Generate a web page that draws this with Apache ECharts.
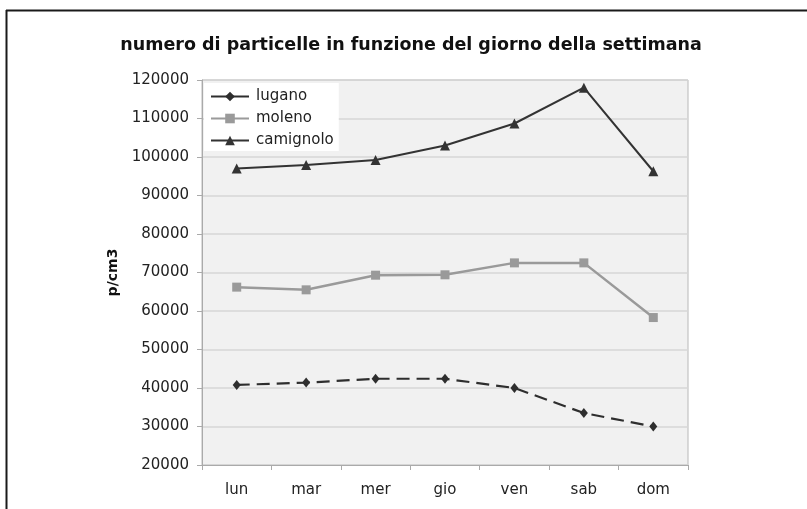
<!DOCTYPE html>
<html>
<head>
<meta charset="utf-8">
<script src="https://cdn.jsdelivr.net/npm/echarts@6/dist/echarts.min.js"></script>
<style>
  html, body { margin: 0; padding: 0; background: #fff; }
  #chart { width: 807px; height: 509px; }
</style>
</head>
<body>
<div id="chart"></div>
<script>
// Days of the week and particle counts (p/cm3) per station
const days = ['lun', 'mar', 'mer', 'gio', 'ven', 'sab', 'dom'];
const lugano = [40800, 41400, 42400, 42400, 40000, 33500, 30000];
const moleno = [66200, 65500, 69300, 69400, 72500, 72500, 58300];
const camignolo = [97000, 97900, 99200, 103000, 108700, 118000, 96300];
const yTicks = { min: 20000, max: 120000, step: 10000 };

const FONT = 'DejaVu Sans';
const chart = echarts.init(document.getElementById('chart'), null, { renderer: 'canvas' });

chart.setOption({
  animation: false,
  backgroundColor: '#ffffff',
  textStyle: { fontFamily: FONT },
  title: {
    text: 'numero di particelle in funzione del giorno della settimana',
    left: 411,
    textAlign: 'center',
    top: 36,
    padding: 0,
    textStyle: { fontFamily: FONT, fontSize: 17.5, fontWeight: 'bold', color: '#111' }
  },
  grid: {
    left: 202, right: 119, top: 80, bottom: 44,
    show: true,
    backgroundColor: '#f1f1f1',
    borderColor: '#b8b8b8',
    borderWidth: 1
  },
  legend: {
    left: 204, top: 83,
    orient: 'vertical',
    backgroundColor: '#ffffff',
    padding: [6, 5, 3, 6],
    itemWidth: 38, itemHeight: 12, itemGap: 7,
    lineStyle: { type: 'solid' },
    textStyle: { fontFamily: FONT, fontSize: 15, color: '#222', padding: [0, 0, 0, 2] },
    data: ['lugano', 'moleno', 'camignolo']
  },
  xAxis: {
    type: 'category',
    data: days,
    boundaryGap: true,
    axisLine: { lineStyle: { color: '#aaaaaa', width: 1 } },
    axisTick: { show: true, length: 5, interval: 0, lineStyle: { color: '#aaaaaa' } },
    axisLabel: { fontFamily: FONT, fontSize: 15, color: '#222', margin: 18 },
    splitLine: { show: false }
  },
  yAxis: {
    type: 'value',
    min: yTicks.min, max: yTicks.max, interval: yTicks.step,
    name: 'p/cm3',
    nameLocation: 'middle',
    nameRotate: 90,
    nameGap: 74,
    nameTextStyle: { fontFamily: FONT, fontSize: 14, fontWeight: 'bold', color: '#111' },
    axisLine: { show: true, lineStyle: { color: '#aaaaaa', width: 1 } },
    axisTick: { show: true, length: 5, lineStyle: { color: '#aaaaaa' } },
    axisLabel: {
      fontFamily: FONT, fontSize: 15, color: '#222', margin: 13,
      formatter: (v) => String(v)
    },
    splitLine: { show: true, lineStyle: { color: '#d6d6d6', width: 1.5 } }
  },
  series: [
    {
      name: 'lugano', type: 'line', data: lugano,
      symbol: 'diamond', symbolSize: [8, 10],
      lineStyle: { color: '#2e2e2e', width: 2.2, type: [13, 7] },
      itemStyle: { color: '#2e2e2e' }
    },
    {
      name: 'moleno', type: 'line', data: moleno,
      symbol: 'rect', symbolSize: 9,
      lineStyle: { color: '#9a9a9a', width: 2.5 },
      itemStyle: { color: '#9a9a9a' }
    },
    {
      name: 'camignolo', type: 'line', data: camignolo,
      symbol: 'triangle', symbolSize: 10,
      lineStyle: { color: '#333333', width: 2 },
      itemStyle: { color: '#333333' }
    }
  ],
  graphic: [
    { type: 'line', shape: { x1: 6, y1: 10.5, x2: 807, y2: 10.5 }, style: { stroke: '#1a1a1a', lineWidth: 2 }, silent: true },
    { type: 'line', shape: { x1: 6.5, y1: 10, x2: 6.5, y2: 509 }, style: { stroke: '#1a1a1a', lineWidth: 2 }, silent: true }
  ]
});
</script>
</body>
</html>
